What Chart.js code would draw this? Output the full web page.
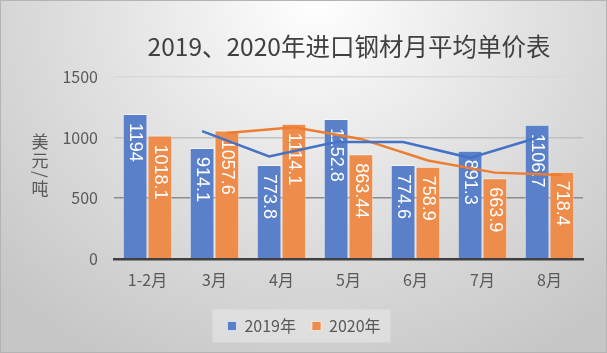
<!DOCTYPE html>
<html>
<head>
<meta charset="utf-8">
<script src="https://cdn.jsdelivr.net/npm/chart.js@4"></script>
<style>
html, body { margin: 0; padding: 0; }
#wrap {
    position: relative;
    width: 607px;
    height: 353px;
    box-sizing: border-box;
    border: 1px solid #b4b4b4;
    background: radial-gradient(ellipse 440px 410px at 52% 0%, #ffffff 0%, #e4e4e4 45%, #c6c6c6 100%);
}
#chart { position: absolute; left: -1px; top: -1px; }
</style>
</head>
<body>
<div id="wrap"><canvas id="chart" width="607" height="353"></canvas></div>
<script>
const chartTitle = '2019、2020年进口钢材月平均单价表';
const yTitle = '美元/吨';
const categories = ['1-2月', '3月', '4月', '5月', '6月', '7月', '8月'];
const seriesNames = ['2019年', '2020年'];
const price2019 = [1194, 914.1, 773.8, 1152.8, 774.6, 891.3, 1106.7];
const price2020 = [1018.1, 1057.6, 1114.1, 863.44, 758.9, 663.9, 718.4];
// trend lines (first month has none)
const trend2019 = [null, 1054, 844, 963, 964, 833, 999];
const trend2020 = [null, 1038, 1086, 989, 811, 711, 691];
const yMax = 1500;
const yStep = 500;

const font = '"Noto Sans CJK SC", "Liberation Sans", sans-serif';
Chart.defaults.font.family = font;

// white vertical value labels inside the top of every bar
const barLabels = {
    id: 'barLabels',
    afterDatasetDraw(chart, args) {
        if (args.meta.type !== 'bar') return;
        const ctx = chart.ctx;
        const values = chart.data.datasets[args.index].data;
        ctx.save();
        ctx.fillStyle = '#ffffff';
        ctx.font = '18px "Liberation Sans", Arial, sans-serif';
        ctx.textAlign = 'left';
        ctx.textBaseline = 'middle';
        args.meta.data.forEach((bar, i) => {
            ctx.save();
            ctx.translate(bar.x, bar.y + 9);
            ctx.rotate(Math.PI / 2);
            ctx.fillText(String(values[i]), 0, 0);
            ctx.restore();
        });
        ctx.restore();
    }
};

// put each trend line over the centres of its own bars
const trendAlign = {
    id: 'trendAlign',
    afterDatasetsUpdate(chart) {
        chart.data.datasets.forEach((ds, i) => {
            if (ds.type !== 'line') return;
            const bars = chart.getDatasetMeta(ds.barIndex).data;
            chart.getDatasetMeta(i).data.forEach((pt, j) => { pt.x = bars[j].x; });
        });
    }
};

// title, stacked y title and the legend panel
const decorations = {
    id: 'decorations',
    beforeDraw(chart) {
        const ctx = chart.ctx;
        const area = chart.chartArea;
        ctx.save();
        ctx.fillStyle = '#404040';
        ctx.font = '24.5px ' + font;
        ctx.textAlign = 'center';
        ctx.textBaseline = 'middle';
        ctx.fillText(chartTitle, 349, 47);

        ctx.fillStyle = '#595959';
        ctx.font = '17px ' + font;
        let y = (area.top + area.bottom) / 2 - 35;
        for (const ch of yTitle) {
            if (ch === '/') {
                const w = ctx.measureText(ch).width;
                ctx.save();
                ctx.translate(40, y + w / 2);
                ctx.rotate(Math.PI / 2);
                ctx.fillText(ch, 0, 0);
                ctx.restore();
                y += w + 2;
            } else {
                ctx.fillText(ch, 40, y + 9);
                y += 19;
            }
        }

        const hits = chart.legend.legendHitBoxes;
        if (hits && hits.length) {
            const first = hits[0], last = hits[hits.length - 1];
            const cy = first.top + first.height / 2;
            ctx.fillStyle = 'rgba(255,255,255,0.3)';
            ctx.fillRect(first.left - 15, cy - 16.5, last.left + last.width - first.left + 25, 33);
        }
        ctx.restore();
    }
};

const gridColors = { 0: '#404040', 500: '#8c8c8c', 1000: '#c0c0c0', 1500: '#d9d9d9' };

new Chart(document.getElementById('chart'), {
    data: {
        labels: categories,
        datasets: [{
            type: 'bar',
            label: seriesNames[0],
            data: price2019,
            backgroundColor: '#5a80ca',
            borderColor: 'rgba(255,255,255,0.55)',
            borderWidth: 1,
            categoryPercentage: 0.74,
            barPercentage: 1,
            order: 1
        }, {
            type: 'bar',
            label: seriesNames[1],
            data: price2020,
            backgroundColor: '#ee8c4b',
            borderColor: 'rgba(255,255,255,0.55)',
            borderWidth: 1,
            categoryPercentage: 0.74,
            barPercentage: 1,
            order: 1
        }, {
            type: 'line',
            label: 'trend2019',
            data: trend2019,
            barIndex: 0,
            borderColor: '#4472c4',
            borderWidth: 2.5,
            pointRadius: 0,
            tension: 0,
            order: 0
        }, {
            type: 'line',
            label: 'trend2020',
            data: trend2020,
            barIndex: 1,
            borderColor: '#ed7d31',
            borderWidth: 2.5,
            pointRadius: 0,
            tension: 0,
            order: 0
        }]
    },
    options: {
        responsive: false,
        animation: false,
        events: [],
        layout: {
            padding: { left: 25, top: 77, right: 24, bottom: 9 }
        },
        scales: {
            x: {
                grid: { display: false, drawTicks: false },
                border: { color: '#404040', width: 2.5 },
                ticks: { color: '#595959', font: { size: 16 }, padding: 12 }
            },
            y: {
                min: 0,
                max: yMax,
                afterFit(scale) { scale.width = 89; },
                grid: {
                    drawTicks: false,
                    lineWidth: 1.5,
                    color: c => gridColors[c.tick.value] || '#d9d9d9'
                },
                border: { display: false },
                ticks: {
                    stepSize: yStep,
                    color: '#595959',
                    font: { size: 16 },
                    padding: 16,
                    callback: v => String(v)
                }
            }
        },
        plugins: {
            title: { display: false },
            tooltip: { enabled: false },
            legend: {
                position: 'bottom',
                labels: {
                    boxWidth: 9,
                    boxHeight: 9,
                    padding: 16,
                    color: '#595959',
                    font: { size: 16 },
                    filter: item => item.datasetIndex < 2
                }
            }
        }
    },
    plugins: [trendAlign, barLabels, decorations]
});
</script>
</body>
</html>
